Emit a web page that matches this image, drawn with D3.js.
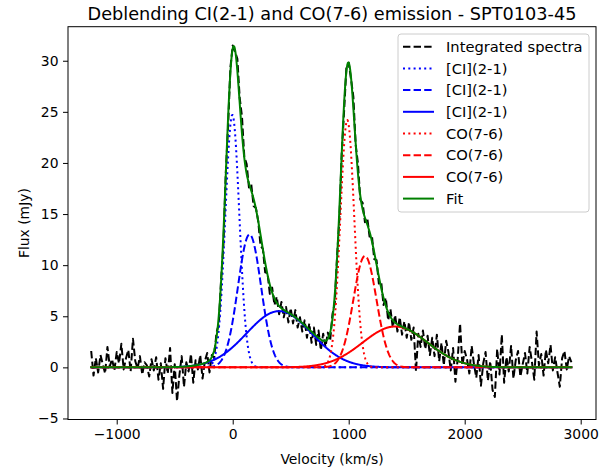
<!DOCTYPE html>
<html>
<head>
<meta charset="utf-8">
<script src="https://cdn.jsdelivr.net/npm/d3@7"></script>
<style>
  html, body { margin: 0; padding: 0; background: #ffffff; }
  svg { display: block; font-family: "DejaVu Sans", sans-serif; }
</style>
</head>
<body>
<svg id="chart" width="612" height="471"></svg>
<script>
// ---------------- data ----------------
const chartTitle = "Deblending CI(2-1) and CO(7-6) emission - SPT0103-45";
const xLabel = "Velocity (km/s)";
const yLabel = "Flux (mJy)";

// channel grid of the integrated spectrum (km/s)
const velStart = -1220;
const velStep = 20;
// integrated spectrum (mJy), one value per channel
const spectrum = [
  1.6, -0.8, 0.9, -0.5, 1.2, 0.3, -0.6, 2.0, 0.1, 0.8, -0.3, 1.5,
  0.4, 2.3, -0.2, 0.9, 1.7, -0.4, 2.8, 0.6, -0.1, 1.1, -0.7, 0.5,
  0.2, -0.9, 0.8, -0.3, 1.0, -1.2, 0.4, -2.1, 0.9, -0.6, 1.9, -2.5,
  0.3, -3.3, -0.8, 1.1, -1.9, 0.5, -0.4, 1.3, -1.5, 0.7, -0.2, 1.2,
  -1.1, 0.6, 1.4, -0.5,
  1.2, 0.9, 3.4, 4.2, 8.6,
  12.0, 18.9, 23.5, 29.3, 31.5,
  30.9, 30.2, 26.4, 24.5, 20.6,
  19.9, 17.6, 17.9, 15.8, 15.6,
  14.3, 11.9, 11.6, 9.3, 9.2,
  7.2, 7.8, 6.1, 6.9, 5.2,
  6.4, 4.9, 5.9, 4.4, 5.8,
  4.3, 5.6, 3.9, 4.9, 3.5,
  4.6, 2.9, 4.3, 2.4, 3.9,
  2.2, 3.6, 1.7, 3.3, 2.0,
  3.4, 2.6, 5.2, 6.3, 10.9,
  14.6, 21.0, 25.0, 29.3, 29.8,
  28.2, 26.5, 21.8, 19.9, 16.4,
  16.1, 14.2, 14.6, 12.8, 12.9,
  10.6, 10.5, 8.2, 8.4, 6.1,
  6.8, 4.6, 5.7, 3.9, 5.1,
  3.5, 4.9, 3.2, 4.5, 2.9,
  4.4, 2.7, 3.9, -0.4, 3.3,
  2.0, 3.6, 1.8, 3.1, 1.2,
  2.9, 1.1, 3.2, 0.6, 2.4,
  0.2, 2.6, 1.5, -0.3, 1.9,
  -1.4, 0.9, 4.3, 0.2, 1.6,
  0.8, -0.6, 2.1, 0.3, -1.0,
  1.2, -1.8, 0.4, 1.5, -1.3,
  0.6, -2.2, -2.9, 1.8, -0.7,
  3.2, -1.5, 1.0, -0.4, 2.1,
  -1.1, 0.7, 1.6, -0.9, 0.3,
  1.4, -0.6, 2.0, 0.5, -1.2,
  3.5, 0.2, 1.3, -0.8, 1.7,
  0.4, 2.2, -0.3, 1.0, -0.5,
  -1.9, 0.9, 1.6, -0.2, 1.1, 0.5
];

// Gaussian components of the fit: amplitude (mJy), centre (km/s), sigma (km/s)
const ciAmp = [24.7, 13.0, 5.5];
const ciCen = [-3, 145, 400];
const ciSig = [60, 100, 280];
const coAmp = [24.2, 10.9, 4.0];
const coCen = [988, 1140, 1400];
const coSig = [60, 100, 280];

const xTicks = [-1000, 0, 1000, 2000, 3000];
const yTicks = [-5, 0, 5, 10, 15, 20, 25, 30];
const legendLabels = ["Integrated spectra", "[CI](2-1)", "[CI](2-1)", "[CI](2-1)",
                      "CO(7-6)", "CO(7-6)", "CO(7-6)", "Fit"];

// ---------------- layout ----------------
const svg = d3.select("#chart");
const L = 68, R = 596, T = 26.7, B = 419.5;
const x = d3.scaleLinear().domain([-1420, 3132]).range([L, R]);
const y = d3.scaleLinear().domain([-5.1, 33.33]).range([B, T]);

const vel = spectrum.map((_, i) => velStart + i * velStep);
const vMin = vel[0], vMax = vel[vel.length - 1];
const fine = d3.range(vMin, vMax + 0.001, 4);
const gauss = (a, c, s) => v => a * Math.exp(-((v - c) * (v - c)) / (2 * s * s));
const ciF = ciAmp.map((a, i) => gauss(a, ciCen[i], ciSig[i]));
const coF = coAmp.map((a, i) => gauss(a, coCen[i], coSig[i]));
const allF = ciF.concat(coF);
const fitF = v => d3.sum(allF, f => f(v));

const line = d3.line().x(d => x(d[0])).y(d => y(d[1]));
const lw = 2;
const DOT = `${1 * lw},${1.65 * lw}`;
const DASH = `${3.7 * lw},${1.6 * lw}`;
const styles = [
  { color: "#000000", dash: DASH },
  { color: "#0000ff", dash: DOT },
  { color: "#0000ff", dash: DASH },
  { color: "#0000ff", dash: null },
  { color: "#ff0000", dash: DOT },
  { color: "#ff0000", dash: DASH },
  { color: "#ff0000", dash: null },
  { color: "#008000", dash: null }
];

const plot = svg.append("g");
const series = [];
series.push(vel.map((v, i) => [v, spectrum[i]]));
ciF.forEach(f => series.push(fine.map(v => [v, f(v)])));
coF.forEach(f => series.push(fine.map(v => [v, f(v)])));
series.push(fine.map(v => [v, fitF(v)]));

series.forEach((d, i) => {
  plot.append("path")
    .attr("d", line(d))
    .attr("fill", "none")
    .attr("stroke", styles[i].color)
    .attr("stroke-width", lw)
    .attr("stroke-linejoin", "round")
    .attr("stroke-linecap", styles[i].dash ? "butt" : "square")
    .attr("stroke-dasharray", styles[i].dash);
});

// ---------------- axes ----------------
const fmt = d3.format("");
const xAxis = svg.append("g").attr("transform", `translate(0,${B})`)
  .call(d3.axisBottom(x).tickValues(xTicks).tickSize(5).tickPadding(4.5).tickFormat(fmt));
const yAxis = svg.append("g").attr("transform", `translate(${L},0)`)
  .call(d3.axisLeft(y).tickValues(yTicks).tickSize(5).tickPadding(4.5).tickFormat(fmt));
[xAxis, yAxis].forEach(g => {
  g.select(".domain").remove();
  g.selectAll("line").attr("stroke", "#000").attr("stroke-width", 1);
  g.selectAll("text").attr("fill", "#000").style("font-size", "13.9px")
    .style("font-family", "DejaVu Sans");
});

// frame
svg.append("rect")
  .attr("x", L).attr("y", T).attr("width", R - L).attr("height", B - T)
  .attr("fill", "none").attr("stroke", "#000").attr("stroke-width", 1);

// labels
svg.append("text").attr("x", (L + R) / 2).attr("y", 20)
  .attr("text-anchor", "middle").style("font-size", "17.7px").text(chartTitle);
svg.append("text").attr("x", (L + R) / 2).attr("y", 463.5)
  .attr("text-anchor", "middle").style("font-size", "13.9px").text(xLabel);
svg.append("text").attr("transform", `translate(29,${(T + B) / 2}) rotate(-90)`)
  .attr("text-anchor", "middle").style("font-size", "13.9px").text(yLabel);

// ---------------- legend ----------------
const lg = svg.append("g");
lg.append("rect").attr("x", 398).attr("y", 34).attr("width", 191).attr("height", 178)
  .attr("rx", 3).attr("fill", "#ffffff").attr("fill-opacity", 0.8)
  .attr("stroke", "#cccccc").attr("stroke-width", 1);
legendLabels.forEach((lab, i) => {
  const cy = 46.7 + i * 21.7;
  lg.append("line").attr("x1", 403).attr("x2", 434).attr("y1", cy).attr("y2", cy)
    .attr("stroke", styles[i].color).attr("stroke-width", lw)
    .attr("stroke-dasharray", styles[i].dash);
  lg.append("text").attr("x", 446).attr("y", cy).attr("dy", "0.36em")
    .style("font-size", "14.7px").text(lab);
});
</script>
</body>
</html>
